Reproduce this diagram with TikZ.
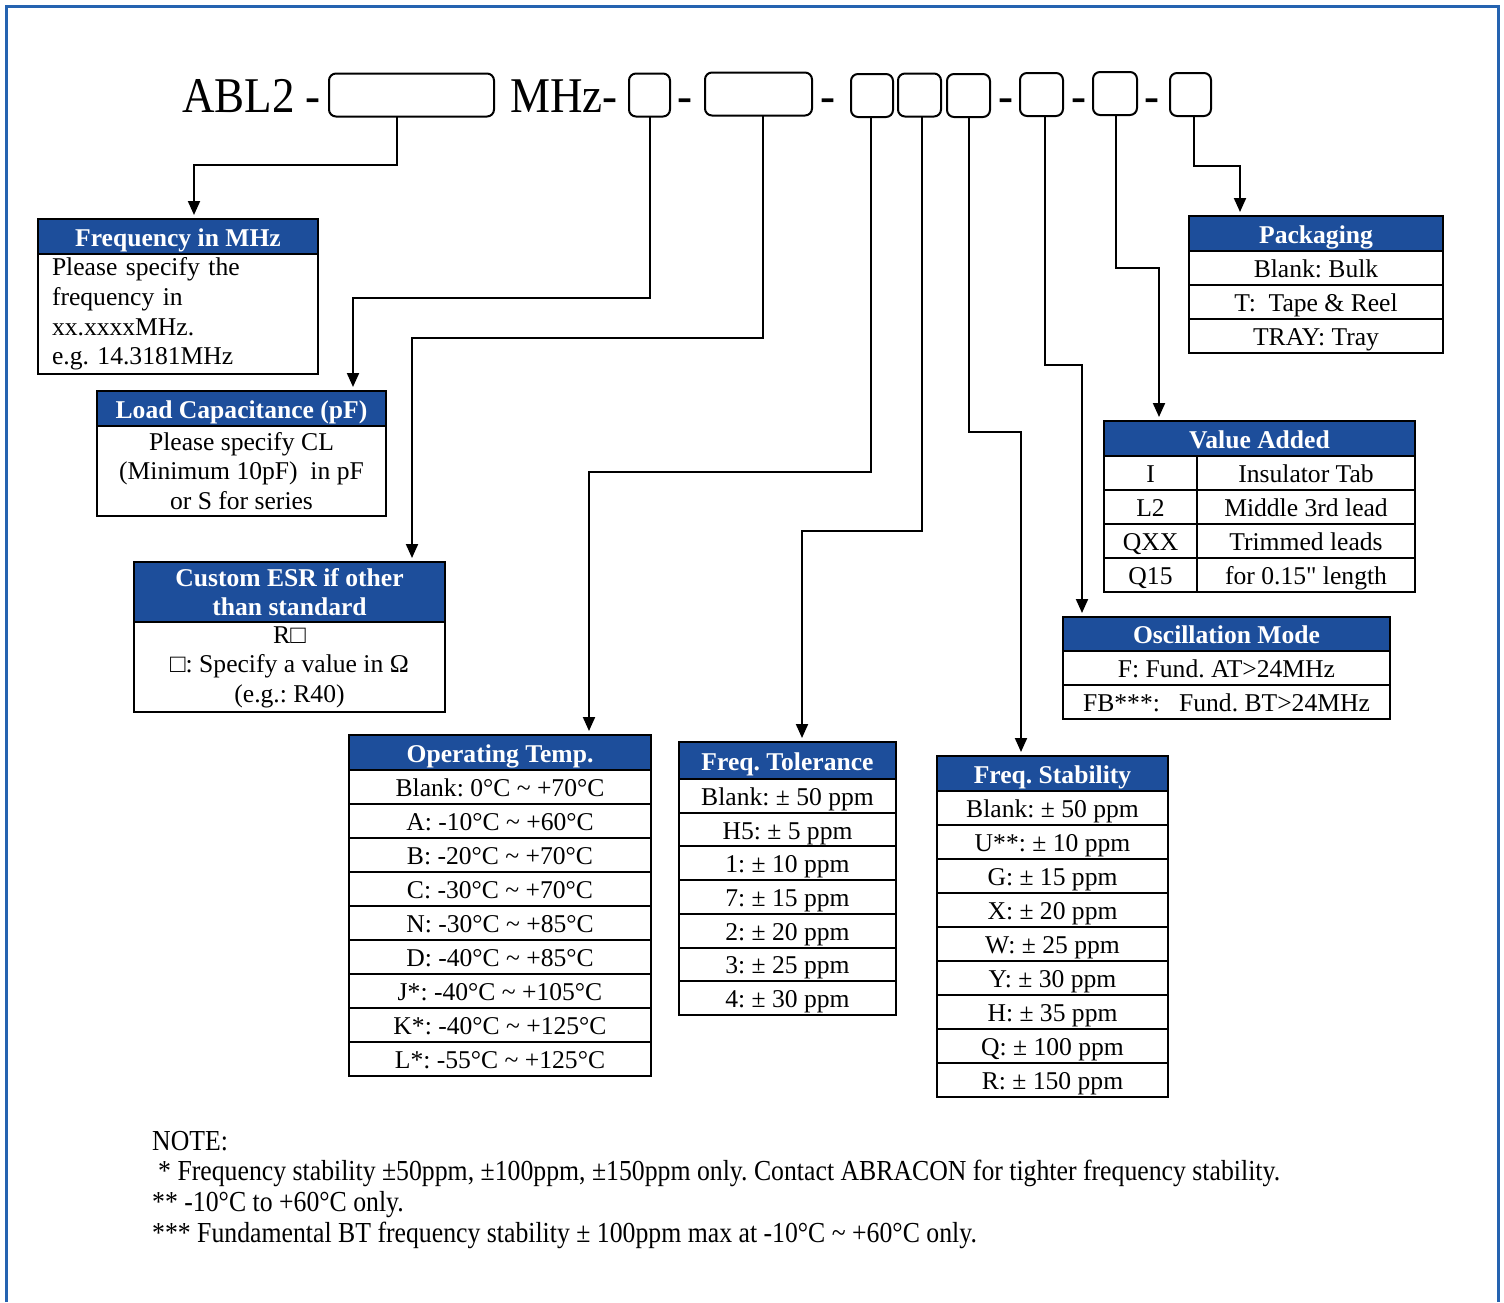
\documentclass[tikz,border=0pt]{standalone}
\usepackage{fontspec}
\setmainfont{Liberation Serif}
\newfontfamily\titlefont[FakeStretch=0.9]{Liberation Serif}
\newfontfamily\notefont[FakeStretch=0.888]{Liberation Serif}
\newfontfamily\quotefont[Ligatures=TeXOff]{Liberation Serif}
\definecolor{abblue}{HTML}{1D4E9B}
\definecolor{abframe}{HTML}{2563B0}
\newcommand{\tildemark}{\textasciitilde}
\usetikzlibrary{arrows.meta,positioning,calc}
\frenchspacing

\begin{document}
\begin{tikzpicture}[x=1pt, y=-1pt,
  pnbox/.style={draw, line width=2pt, rounded corners=7pt, minimum width=#1,
    minimum height=43pt, inner sep=0pt, outer sep=0pt},
  titletxt/.style={font=\titlefont\fontsize{50}{56}\selectfont, inner sep=0pt},
  hbase/.style={draw, fill=abblue, text=white, line width=2pt, inner sep=0pt,
    outer sep=0pt, minimum width=#1, minimum height=35pt, anchor=north west,
    font=\fontsize{25.6}{29.6}\selectfont\bfseries},
  head/.style={hbase=#1, text height=23pt, text depth=4pt},
  body/.style={draw, line width=2pt, inner sep=0pt, outer sep=0pt,
    minimum width=#1, anchor=north, font=\fontsize{25.6}{29.6}\selectfont},
  cell/.style={body=#1, minimum height=34pt, text height=23pt, text depth=4pt},
  link/.style={line width=2pt, -{Triangle[length=14pt,width=12pt]}, shorten >=4pt},
  note/.style={font=\notefont\fontsize{29}{33}\selectfont, anchor=base west, inner sep=0pt}
]
  \useasboundingbox (0,0) rectangle (1504,1302);
  % open frame
  \draw[abframe, line width=3pt] (6,1302) -- (6,6) -- (1498,6) -- (1498,1302);

  % part number
  \node[titletxt, anchor=base west] (abl) at (182,112) {ABL2 -};
  \node[titletxt, anchor=base west] (mhz) at (510,112) {MHz-};
  \node[pnbox=165pt] (b1) at (411.5,95) {};
  \node[pnbox=41pt] (b2) at (649.5,95) {};
  \node[pnbox=107pt] (b3) at (758.5,94) {};
  \node[pnbox=42pt] (b4) at (872,95.5) {};
  \node[pnbox=43pt] (b5) at (919.5,95) {};
  \node[pnbox=43pt] (b6) at (968.5,95.5) {};
  \node[pnbox=43pt] (b7) at (1041.5,94.5) {};
  \node[pnbox=44pt] (b8) at (1115,93.5) {};
  \node[pnbox=41pt] (b9) at (1190.5,94.5) {};
  \foreach \x [count=\i] in {684.5,827.5,1005.5,1078.5,1151.5}
    \node[titletxt, anchor=base] (dash\i) at (\x,112) {-};

  % Frequency
  \node[head=280pt] (fq0) at (38,219) {Frequency in MHz};
  \node[body=280pt, minimum height=120pt, inner xsep=14pt, text width=252pt,
    align=left] (fq1) at (fq0.south)
    {Please specify the\\frequency in\\xx.xxxxMHz.\\e.g. 14.3181MHz};

  % Load capacitance
  \node[head=289pt] (ld0) at (97,391) {Load Capacitance (pF)};
  \node[body=289pt, minimum height=90pt, align=center] (ld1) at (ld0.south)
    {Please specify CL\\(Minimum 10pF)\ \ in pF\\or S for series};

  % ESR
  \node[hbase=311pt, minimum height=60pt, align=center] (esr0) at (134,562)
    {Custom ESR if other\\than standard};
  \node[body=311pt, minimum height=90pt, align=center] (esr1) at (esr0.south)
    {R□\\□: Specify a value in Ω\\(e.g.: R40)};

  % Operating temp
  \node[head=302pt] (op0) at (349,735) {Operating Temp.};
  \foreach \txt [count=\i, remember=\i as \j (initially 0)] in
    {Blank: 0°C \tildemark{} +70°C, A: -10°C \tildemark{} +60°C,
     B: -20°C \tildemark{} +70°C, C: -30°C \tildemark{} +70°C,
     N: -30°C \tildemark{} +85°C, D: -40°C \tildemark{} +85°C,
     J*: -40°C \tildemark{} +105°C, K*: -40°C \tildemark{} +125°C,
     L*: -55°C \tildemark{} +125°C}
    \node[cell=302pt] (op\i) at (op\j.south) {\txt};

  % Tolerance
  \node[head=217pt, minimum height=37pt] (tol0) at (679,742) {Freq. Tolerance};
  \foreach \txt [count=\i, remember=\i as \j (initially 0)] in
    {Blank: ± 50 ppm, H5: ± 5 ppm, 1: ± 10 ppm, 7: ± 15 ppm,
     2: ± 20 ppm, 3: ± 25 ppm, 4: ± 30 ppm}
    \node[cell=217pt, minimum height=33.7pt] (tol\i) at (tol\j.south) {\txt};

  % Stability
  \node[head=231pt] (stb0) at (937,756) {Freq. Stability};
  \foreach \txt [count=\i, remember=\i as \j (initially 0)] in
    {Blank: ± 50 ppm, U**: ± 10 ppm, G: ± 15 ppm, X: ± 20 ppm, W: ± 25 ppm,
     Y: ± 30 ppm, H: ± 35 ppm, Q: ± 100 ppm, R: ± 150 ppm}
    \node[cell=231pt] (stb\i) at (stb\j.south) {\txt};

  % Oscillation mode
  \node[head=327pt, minimum height=34pt] (osc0) at (1063,617) {Oscillation Mode};
  \node[cell=327pt] (osc1) at (osc0.south) {F: Fund. AT>24MHz};
  \node[cell=327pt] (osc2) at (osc1.south) {FB***:\ \ \ Fund. BT>24MHz};

  % Value added
  \node[head=311pt] (va0) at (1104,421) {Value Added};
  \foreach \k/\v [count=\i, remember=\i as \j (initially 0)] in
    {I/Insulator Tab, L2/Middle 3rd lead, QXX/Trimmed leads,
     Q15/for 0.15{\quotefont"} length} {
    \node[cell=93pt, anchor=north west] (vk\i) at (va\j.south west) {\k};
    \node[cell=218pt, anchor=north west] (vv\i) at (vk\i.north east) {\v};
    \coordinate (va\i) at (vk\i.south west);
    \coordinate (va\i.south west) at (vk\i.south west);
  }

  % Packaging
  \node[head=254pt] (pk0) at (1189,216) {Packaging};
  \foreach \txt [count=\i, remember=\i as \j (initially 0)] in
    {Blank: Bulk, T:\ \ Tape \& Reel, TRAY: Tray}
    \node[cell=254pt] (pk\i) at (pk\j.south) {\txt};

  % connectors
  \draw[link] ([xshift=-14.5pt]b1.south) |- (194,165) -- (194,0 |- fq0.north);
  \draw[link] (b2.south) |- (353,298) -- (353,0 |- ld0.north);
  \draw[link] ([xshift=4.5pt]b3.south) |- (412,338) -- (412,0 |- esr0.north);
  \draw[link] ([xshift=-1pt]b4.south) |- (589,472) -- (589,0 |- op0.north);
  \draw[link] ([xshift=2.5pt]b5.south) |- (802,531) -- (802,0 |- tol0.north);
  \draw[link] (b6.south) |- (1021,432) -- (1021,0 |- stb0.north);
  \draw[link] ([xshift=3.5pt]b7.south) |- (1082,365) -- (1082,0 |- osc0.north);
  \draw[link] ([xshift=1pt]b8.south) |- (1159,268) -- (1159,0 |- va0.north);
  \draw[link] ([xshift=3.5pt]b9.south) |- (1240,166) -- (1240,0 |- pk0.north);

  % notes
  \node[note] (n0) at (152,1150) {NOTE:};
  \node[note] (n1) at (152,1180) {\hspace*{6pt}* Frequency stability ±50ppm, ±100ppm, ±150ppm only. Contact ABRACON for tighter frequency stability.};
  \node[note] (n2) at (152,1211) {** -10°C to +60°C only.};
  \node[note] (n3) at (152,1242) {*** Fundamental BT frequency stability ± 100ppm max at -10°C \tildemark{} +60°C only.};
\end{tikzpicture}
\end{document}
